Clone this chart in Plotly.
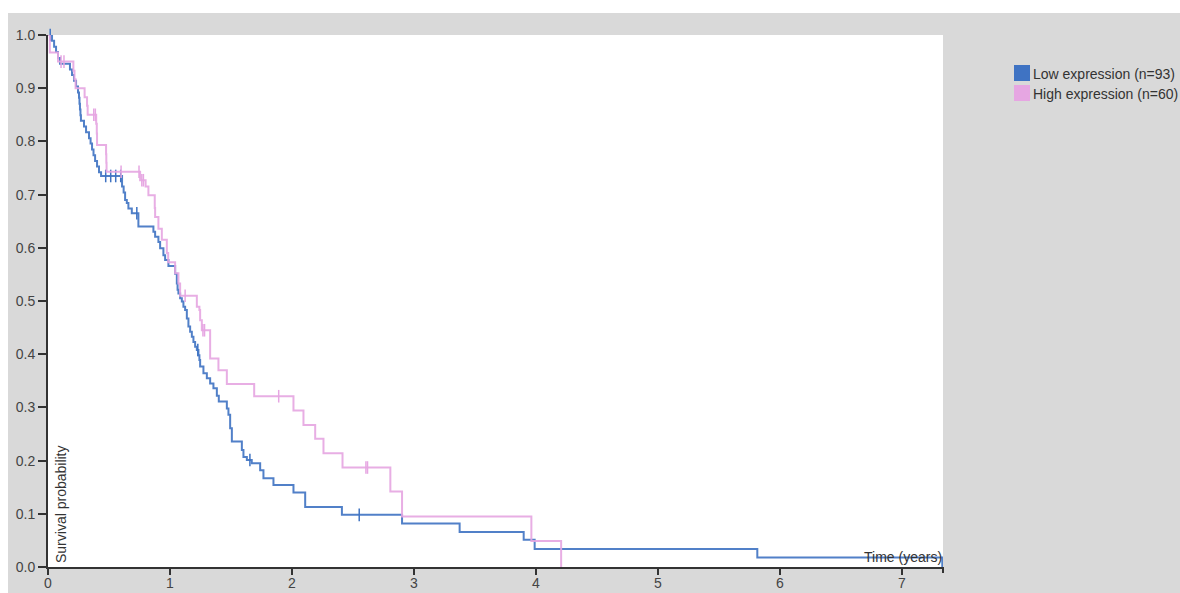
import numpy as np
import plotly.graph_objects as go

# Kaplan-Meier step points (time in years, survival after the step)
low_time = [0.033, 0.05, 0.066, 0.082, 0.098, 0.18, 0.197, 0.213, 0.23, 0.246,
            0.254, 0.258, 0.262, 0.266, 0.27, 0.295, 0.312, 0.336, 0.349, 0.361,
            0.373, 0.386, 0.402, 0.418, 0.435, 0.607, 0.62, 0.632, 0.646, 0.659,
            0.687, 0.741, 0.864, 0.878, 0.905, 0.919, 0.946, 0.96, 0.987, 1.042,
            1.056, 1.062, 1.069, 1.083, 1.097, 1.11, 1.124, 1.138, 1.151, 1.165,
            1.179, 1.192, 1.206, 1.22, 1.233, 1.241, 1.247, 1.274, 1.302, 1.329,
            1.356, 1.384, 1.40, 1.466, 1.479, 1.493, 1.507, 1.589, 1.602, 1.63,
            1.67, 1.739, 1.766, 1.848, 2.012, 2.108, 2.409, 2.902, 3.374, 3.899,
            3.989, 5.814, 7.33]
low_surv = [0.989, 0.978, 0.968, 0.957, 0.946, 0.935, 0.925, 0.914, 0.903, 0.892,
            0.882, 0.871, 0.860, 0.849, 0.839, 0.828, 0.817, 0.806, 0.796, 0.785,
            0.774, 0.763, 0.753, 0.742, 0.735, 0.715, 0.704, 0.690, 0.684, 0.674,
            0.665, 0.640, 0.630, 0.621, 0.611, 0.599, 0.586, 0.577, 0.566, 0.551,
            0.533, 0.521, 0.514, 0.505, 0.499, 0.489, 0.483, 0.467, 0.452, 0.442,
            0.433, 0.423, 0.414, 0.408, 0.398, 0.389, 0.377, 0.364, 0.355, 0.345,
            0.336, 0.322, 0.311, 0.298, 0.286, 0.261, 0.236, 0.220, 0.207, 0.201,
            0.195, 0.182, 0.167, 0.154, 0.140, 0.113, 0.098, 0.082, 0.066, 0.051,
            0.034, 0.018, 0.0]
low_censored = [0.018, 0.473, 0.514, 0.555, 0.596, 0.728, 1.228, 1.655, 2.551]

high_time = [0.015, 0.082, 0.208, 0.217, 0.226, 0.30, 0.32, 0.325, 0.395, 0.40,
             0.402, 0.476, 0.478, 0.48, 0.755, 0.80, 0.823, 0.875, 0.878, 0.905,
             0.933, 0.974, 0.985, 1.042, 1.069, 1.083, 1.22, 1.241, 1.247, 1.261,
             1.329, 1.397, 1.466, 1.69, 2.012, 2.094, 2.19, 2.258, 2.414, 2.806,
             2.902, 3.962, 4.206]
high_surv = [0.967, 0.950, 0.933, 0.917, 0.900, 0.883, 0.867, 0.850, 0.833, 0.815,
             0.793, 0.776, 0.760, 0.743, 0.727, 0.715, 0.699, 0.675, 0.658, 0.636,
             0.615, 0.590, 0.573, 0.552, 0.533, 0.510, 0.489, 0.483, 0.464, 0.445,
             0.392, 0.370, 0.344, 0.321, 0.294, 0.267, 0.241, 0.214, 0.187, 0.142,
             0.095, 0.049, 0.0]
high_censored = [0.107, 0.131, 0.375, 0.388, 0.599, 0.746, 0.769, 0.782, 1.124,
                 1.27, 1.283, 1.891, 2.606, 2.619]

groups = [
    ("Low expression (n=93)", low_time, low_surv, low_censored, "#3f73c3"),
    ("High expression (n=60)", high_time, high_surv, high_censored, "#e6a6e2"),
]

x_ticks = [0, 1, 2, 3, 4, 5, 6, 7]
y_ticks = [0.0, 0.1, 0.2, 0.3, 0.4, 0.5, 0.6, 0.7, 0.8, 0.9, 1.0]

# page geometry (pixels)
W, H = 1180, 593
L, R, T, B = 48, 943, 35, 567
FONT = "Arial, Liberation Sans, sans-serif"


def px(x):
    return (x - L) / (R - L)


def py(y):
    return (B - y) / (B - T)


def survival_at(times, surv, t):
    idx = np.searchsorted(np.asarray(times), t, side="right") - 1
    return 1.0 if idx < 0 else surv[idx]


fig = go.Figure()
for name, t, s, cens, color in groups:
    fig.add_trace(go.Scatter(
        x=[0.0] + list(t), y=[1.0] + list(s), mode="lines",
        line=dict(color=color, width=2, shape="hv"),
        name=name, showlegend=False, cliponaxis=False, opacity=0.9,
    ))
    fig.add_trace(go.Scatter(
        x=cens, y=[survival_at(t, s, c) for c in cens], mode="markers",
        marker=dict(symbol="line-ns", size=9, line=dict(color=color, width=1.5)),
        name=name, showlegend=False, cliponaxis=False,
    ))

shapes = [
    # grey panel behind the chart
    dict(type="rect", xref="paper", yref="paper", layer="below",
         x0=px(8), x1=px(W + 5), y0=py(H + 5), y1=py(13),
         fillcolor="#d9d9d9", line=dict(width=0)),
    # white plotting area on top of the panel
    dict(type="rect", xref="paper", yref="paper", layer="below",
         x0=0, x1=1, y0=0, y1=1, fillcolor="white", line=dict(width=0)),
    # outer tick at the end of the time axis
    dict(type="line", xref="paper", yref="paper",
         x0=1, x1=1, y0=0, y1=py(B + 6), line=dict(color="#333", width=2)),
]
annotations = [
    dict(text="Survival probability", xref="paper", yref="paper", x=0, y=0,
         xanchor="left", yanchor="bottom", xshift=3, yshift=2, textangle=-90,
         showarrow=False, font=dict(family=FONT, size=14, color="#333")),
    dict(text="Time (years)", xref="paper", yref="paper", x=1, y=0,
         xanchor="right", yanchor="bottom", xshift=1, yshift=0,
         showarrow=False, font=dict(family=FONT, size=14, color="#333")),
]

# legend swatches and labels
for i, (name, _, _, _, color) in enumerate(groups):
    top = 65 + 20 * i
    shapes.append(dict(type="rect", xref="paper", yref="paper",
                       x0=px(1014), x1=px(1030), y0=py(top + 16), y1=py(top),
                       fillcolor=color, line=dict(width=0)))
    annotations.append(dict(text=name, xref="paper", yref="paper",
                            x=px(1031), y=py(top + 9), xanchor="left",
                            yanchor="middle", showarrow=False,
                            font=dict(family=FONT, size=14, color="#333")))

fig.update_layout(
    width=W, height=H,
    margin=dict(l=L, r=W - R, t=T, b=H - B, autoexpand=False),
    paper_bgcolor="white", plot_bgcolor="rgba(0,0,0,0)",
    showlegend=False,
    font=dict(family=FONT, size=14, color="#444"),
    shapes=shapes, annotations=annotations,
    xaxis=dict(range=[0, 7.336], tickvals=x_ticks, ticktext=[str(v) for v in x_ticks],
               showgrid=False, zeroline=False, showline=True, linecolor="#333",
               linewidth=2, ticks="outside", ticklen=6, tickwidth=2,
               tickcolor="#333", tickfont=dict(size=14, color="#444"),
               ticklabelstandoff=-4, automargin=False),
    yaxis=dict(range=[0, 1], tickvals=y_ticks, ticktext=[f"{v:.1f}" for v in y_ticks],
               showgrid=False, zeroline=False, showline=True, linecolor="#333",
               linewidth=2, ticks="outside", ticklen=8, tickwidth=2,
               tickcolor="#333", tickfont=dict(size=14, color="#444"),
               automargin=False),
)

fig.write_html("out.html")
